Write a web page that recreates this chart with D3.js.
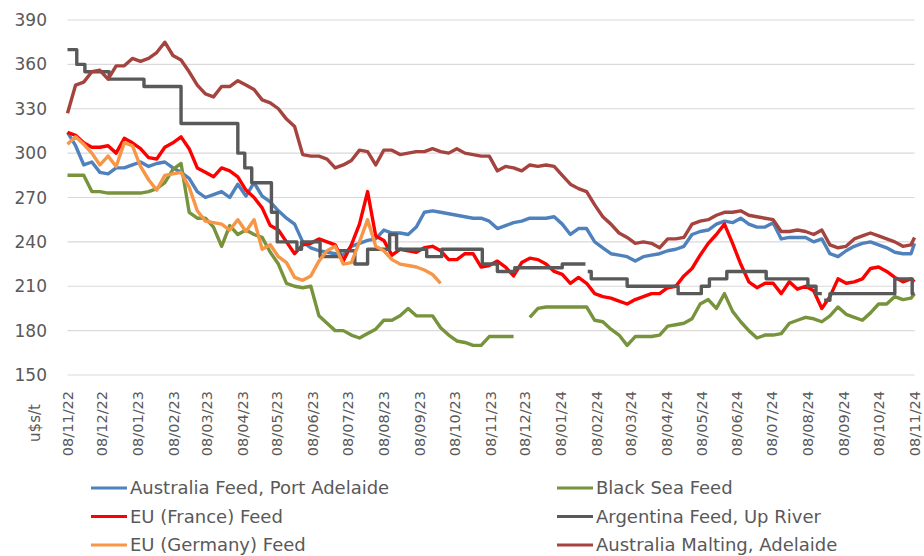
<!DOCTYPE html>
<html lang="en">
<head>
    <meta charset="UTF-8">
    <title>Feed barley prices</title>
    <script src="https://d3js.org/d3.v7.min.js"></script>
    <style>
        body { margin: 0; background: #fff; }
        text { font-family: "DejaVu Sans", sans-serif; fill: #595959; }
    </style>
</head>
<body>
    <script>
        // weekly readings from 08/11/22, last value is 08/11/24
        const ausFeed = [
            314, 305, 292, 294, 287, 286, 290, 290, 292, 294, 291, 293, 294, 290, 287, 283, 274, 270, 272, 274, 270, 279,
            271, 280, 271, 267, 261, 256, 252, 240, 236, 234, 233, 232, 231, 237, 239, 241, 242, 248, 246, 246, 245,
            250, 260, 261, 260, 259, 258, 257, 256, 256, 254, 249, 251, 253, 254, 256, 256, 256, 257, 252, 245, 249,
            249, 240, 236, 232, 231, 230, 227, 230, 231, 232, 234, 235, 237, 245, 247, 248, 252, 254, 253, 256, 252,
            250, 250, 253, 242, 243, 243, 243, 240, 242, 232, 230, 234, 237, 239, 240, 238, 236, 233, 232, 232, 239
        ];
        const blackSea = [
            285, 285, 285, 274, 274, 273, 273, 273, 273, 273, 274, 276, 280, 289, 293, 260, 256, 256, 250, 237, 251, 245,
            248, 245, 243, 233, 225, 212, 210, 209, 210, 190, 185, 180, 180, 177, 175, 178, 181, 187, 187, 190, 195,
            190, 190, 190, 182, 177, 173, 172, 170, 170, 176, 176, 176, 176, null, 189, 195, 196, 196, 196, 196, 196,
            196, 187, 186, 181, 177, 170, 176, 176, 176, 177, 183, 184, 185, 188, 198, 201, 195, 205, 193, 186, 180,
            175, 177, 177, 178, 185, 187, 189, 188, 186, 190, 196, 191, 189, 187, 192, 198, 198, 203, 201, 202, 205
        ];
        const euFrance = [
            314, 312, 307, 304, 304, 305, 300, 310, 307, 303, 297, 296, 304, 307, 311, 303, 290, 287, 284, 290, 288, 284,
            275, 270, 263, 251, 248, 240, 232, 238, 239, 242, 240, 238, 227, 238, 252, 274, 244, 241, 231, 235, 234,
            233, 236, 237, 234, 228, 228, 232, 232, 223, 224, 227, 223, 217, 226, 229, 228, 225, 220, 218, 212, 216,
            212, 205, 203, 202, 200, 198, 201, 203, 205, 205, 209, 210, 217, 222, 231, 239, 245, 252, 239, 225, 213,
            209, 212, 212, 205, 213, 208, 210, 207, 195, 203, 215, 212, 213, 215, 222, 223, 220, 216, 213, 215, 213
        ];
        const euGermany = [
            306, 311, 306, 300, 292, 298, 291, 307, 305, 291, 282, 275, 285, 286, 287, 277, 261, 254, 253, 252, 248, 255,
            247, 255, 235, 238, 230, 226, 216, 214, 217, 227, 234, 237, 225, 226, 240, 255, 237, 234, 228, 225, 224,
            223, 221, 218, 212
        ];
        const ausMalting = [
            327, 346, 348, 355, 356, 350, 359, 359, 364, 362, 364, 368, 375, 366, 363, 355, 346, 340, 338, 345, 345, 349,
            346, 343, 336, 334, 330, 323, 318, 299, 298, 298, 296, 290, 292, 295, 302, 301, 292, 302, 302, 299, 300,
            301, 301, 303, 301, 300, 303, 300, 299, 298, 298, 288, 291, 290, 288, 292, 291, 292, 291, 285, 279, 276,
            274, 265, 257, 252, 246, 243, 239, 240, 239, 236, 242, 242, 243, 252, 254, 255, 258, 260, 260, 261, 258,
            257, 256, 255, 247, 247, 248, 247, 245, 248, 238, 236, 237, 242, 244, 246, 244, 242, 240, 237, 238, 243
        ];

        // Argentina moves in steps: date of each change and the new level (null = no quote)
        const argDates = [
            "2022-11-08", "2022-11-16", "2022-11-23", "2022-12-14", "2023-01-13", "2023-02-14", "2023-04-04",
            "2023-04-10", "2023-04-16", "2023-05-03", "2023-05-08", "2023-05-25", "2023-05-29", "2023-06-14",
            "2023-07-01", "2023-07-14", "2023-07-25", "2023-08-13", "2023-08-19", "2023-09-14", "2023-09-27",
            "2023-11-01", "2023-11-14", "2023-11-29", "2024-01-09", "2024-01-29", "2024-01-30", "2024-01-31",
            "2024-02-03", "2024-03-05", "2024-04-18", "2024-05-08", "2024-05-15", "2024-05-30", "2024-07-03",
            "2024-08-08", "2024-08-15", "2024-08-20", "2024-08-21", "2024-08-22", "2024-08-27", "2024-10-22",
            "2024-11-06", "2024-11-08"
        ];
        const argValues = [
            370, 360, 355, 350, 345, 320, 300,
            290, 280, 260, 240, 235, 240, 230,
            234, 225, 235, 245, 235, 230, 235,
            225, 220, 222.5, 225, 225, null, 220,
            215, 210, 205, 210, 215, 220, 215,
            210, 205, 205, null, 200.5, 205, 215,
            205, 205
        ];

        const seriesNames = [
            "Australia Feed, Port Adelaide", "Black Sea Feed", "EU (France) Feed",
            "Argentina Feed, Up River", "EU (Germany) Feed", "Australia Malting, Adelaide"
        ];
        const seriesColors = ["#4f81bd", "#77933c", "#ff0000", "#595959", "#f79646", "#a5433e"];
        const yTicks = [150, 180, 210, 240, 270, 300, 330, 360, 390];
        const yTitle = "u$s/t";

        const width = 924;
        const height = 556;
        const startDate = new Date(2022, 10, 8);
        const endDate = new Date(2024, 10, 8);

        const weeks = d3.timeDay.range(startDate, endDate, 7);
        weeks.push(endDate);
        const monthTicks = d3.range(25).map(i => new Date(2022, 10 + i, 8));
        const parse = d3.timeParse("%Y-%m-%d");

        const x = d3.scaleTime().domain([startDate, endDate]).range([67.5, 914.5]);
        const y = d3.scaleLinear().domain([150, 390]).range([375, 20]);

        const svg = d3.select("body")
            .append("svg")
            .attr("width", width)
            .attr("height", height);

        // gridlines
        svg.append("g")
            .selectAll("line")
            .data(yTicks)
            .enter().append("line")
            .attr("x1", x.range()[0])
            .attr("x2", x.range()[1])
            .attr("y1", d => y(d))
            .attr("y2", d => y(d))
            .attr("stroke", "#d9d9d9")
            .attr("stroke-width", 1.2);

        svg.append("g")
            .selectAll("text")
            .data(yTicks)
            .enter().append("text")
            .attr("x", 47)
            .attr("y", d => y(d))
            .attr("dy", "0.36em")
            .attr("text-anchor", "end")
            .style("font-size", "17px")
            .text(d => d);

        const fmt = d3.timeFormat("%d/%m/%y");
        svg.append("g")
            .selectAll("text")
            .data(monthTicks)
            .enter().append("text")
            .attr("transform", d => `translate(${x(d)},391) rotate(-90)`)
            .attr("dy", "0.36em")
            .attr("text-anchor", "end")
            .style("font-size", "14.5px")
            .text(d => fmt(d));

        svg.append("text")
            .attr("transform", "translate(35,423) rotate(-90)")
            .attr("dy", "0.36em")
            .attr("text-anchor", "middle")
            .style("font-size", "15px")
            .text(yTitle);

        // series, drawn in legend order
        const weekly = [ausFeed, blackSea, euFrance, null, euGermany, ausMalting];
        const line = d3.line()
            .defined(d => d.v != null)
            .x(d => x(d.date))
            .y(d => y(d.v));
        const stepLine = d3.line()
            .defined(d => d.v != null)
            .curve(d3.curveStepAfter)
            .x(d => x(d.date))
            .y(d => y(d.v));

        const plot = svg.append("g")
            .attr("fill", "none")
            .attr("stroke-width", 3.4)
            .attr("stroke-linejoin", "round");

        weekly.forEach((vals, i) => {
            let pts, gen;
            if (vals) {
                pts = weeks.map((date, k) => ({ date, v: k < vals.length ? vals[k] : null }));
                gen = line;
            } else {
                pts = argDates.map((s, k) => ({ date: parse(s), v: argValues[k] }));
                gen = stepLine;
            }
            plot.append("path")
                .attr("d", gen(pts))
                .attr("stroke", seriesColors[i]);
        });

        // legend, two columns
        const legend = svg.append("g")
            .selectAll("g")
            .data(seriesNames)
            .enter().append("g")
            .attr("transform", (d, i) => `translate(${i % 2 ? 557 : 91},${488 + Math.floor(i / 2) * 28.5})`);

        legend.append("line")
            .attr("x1", 0)
            .attr("x2", 36)
            .attr("stroke", (d, i) => seriesColors[i])
            .attr("stroke-width", 3);

        legend.append("text")
            .attr("x", 39)
            .attr("dy", "0.36em")
            .style("font-size", "18px")
            .text(d => d);
    </script>
</body>
</html>
